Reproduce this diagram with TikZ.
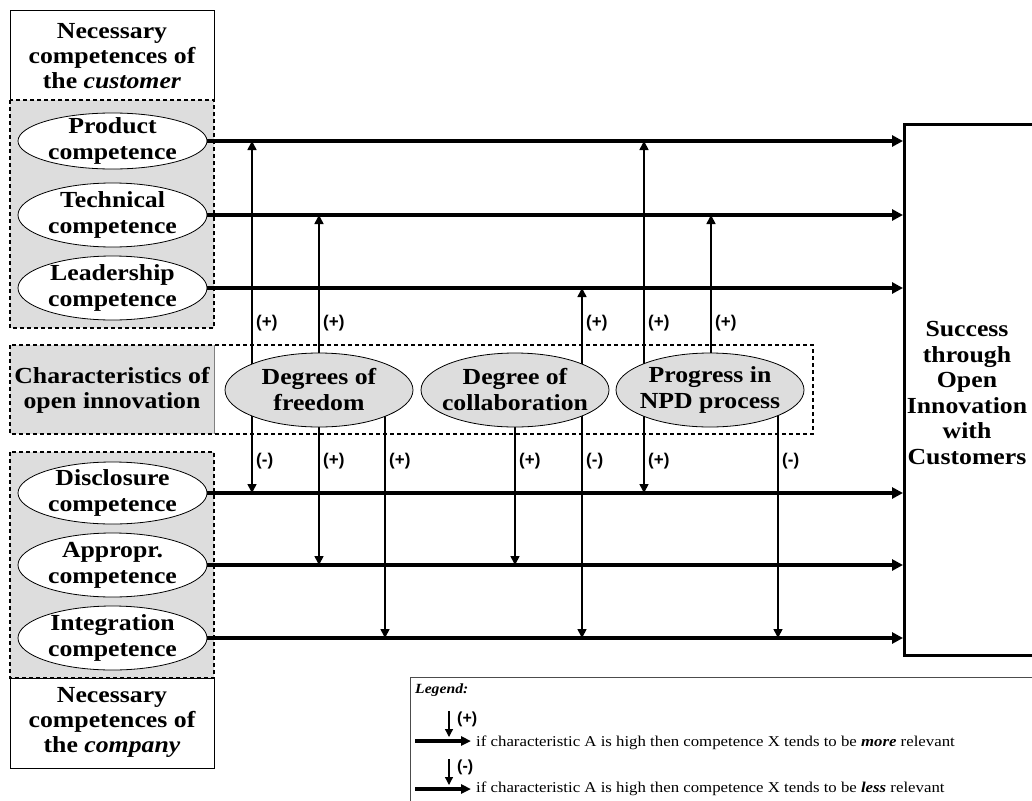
\documentclass[tikz,border=0pt]{standalone}
\usepackage{fontspec}
\setmainfont{Liberation Serif}[FakeStretch=1.12]
\newfontfamily\signfont{Liberation Sans}
\usetikzlibrary{arrows.meta,shapes.geometric,calc}
\definecolor{boxgray}{HTML}{DDDDDD}
\pgfdeclarelayer{back}
\pgfsetlayers{back,main}
\begin{document}
\begin{tikzpicture}[x=1pt,y=-1pt,
  titletext/.style={font=\bfseries\fontsize{23}{25}\selectfont, align=center, inner sep=0},
  elltext/.style={font=\bfseries\fontsize{23}{26}\selectfont, align=center, inner sep=0},
  compell/.style={ellipse, draw, line width=0.8pt, fill=white, minimum width=189pt, minimum height=64pt, inner sep=0},
  charell/.style={ellipse, draw, line width=0.8pt, fill=boxgray, minimum width=188pt, minimum height=74pt, inner sep=0},
  dashbox/.style={draw, line width=1.5pt, dash pattern=on 4pt off 3pt},
  plainbox/.style={draw, line width=0.9pt},
  mainflow/.style={line width=4pt, -{Triangle[length=11pt,width=11pt]}},
  effect/.style={line width=1.6pt, -{Triangle[length=9pt,width=9pt]}},
  sign/.style={font=\signfont\bfseries\fontsize{17}{17}\selectfont, anchor=west, inner sep=0},
  legtext/.style={font=\fontsize{15}{17}\selectfont, anchor=west, inner sep=0},
]
\useasboundingbox (0,0) rectangle (1032,800);

% ---- frames and shaded areas ----
\begin{pgfonlayer}{back}
  % customer side
  \draw[plainbox] (10,10) rectangle (214,100);
  \fill[boxgray] (10,100) rectangle (214,328);
  \draw[dashbox] (10,100) rectangle (214,328);
  % characteristics band
  \fill[boxgray] (10,345) rectangle (214,434);
  \draw[line width=0.6pt, gray] (214,345) -- (214,434);
  \draw[dashbox] (10,345) rectangle (813,434);
  % company side
  \fill[boxgray] (10,452) rectangle (214,678);
  \draw[dashbox] (10,452) rectangle (214,678);
  \draw[plainbox] (10,678) rectangle (214,768);
  % legend frame
  \draw[line width=1pt, black!70] (410,805) -- (410,677) -- (1040,677);
\end{pgfonlayer}

% ---- titles ----
\node[titletext] (custtitle) at (112,56) {Necessary\\competences of\\the \textit{customer}};
\node[titletext] (comptitle) at (112,722) {Necessary\\competences of\\the \textit{company}};
\node[titletext] (chartitle) at (112,390) {Characteristics of\\open innovation};

% ---- competences of the customer ----
\node[compell, minimum height=56pt] (pc) at (112.5,141) {};
\node[elltext] at (pc) {Product\\competence};
\node[compell] (tc) at (112.5,215) {};
\node[elltext] at (tc) {Technical\\competence};
\node[compell] (lc) at (112.5,288) {};
\node[elltext] at (lc) {Leadership\\competence};

% ---- competences of the company ----
\node[compell, minimum height=62pt] (dc) at (112.5,493) {};
\node[elltext] at (dc) {Disclosure\\competence};
\node[compell] (ac) at (112.5,565) {};
\node[elltext] at (ac) {Appropr.\\competence};
\node[compell] (ic) at (112.5,638) {};
\node[elltext] at (ic) {Integration\\competence};

% ---- characteristics of open innovation ----
\node[charell] (df) at (319,390) {};
\node[elltext] at (df) {Degrees of\\freedom};
\node[charell] (co) at (515,390) {};
\node[elltext] at (co) {Degree of\\collaboration};
\node[charell] (pp) at (710,390) {};
\node[elltext] at (pp) {Progress in\\NPD process};

% ---- outcome ----
\node[draw, line width=2.6pt, minimum width=140pt, minimum height=531pt, anchor=north west, inner sep=0] (succ) at (903,123) {};
\node[titletext, font=\bfseries\fontsize{23}{25.6}\selectfont] (succtext) at (967,393) {Success\\through\\Open\\Innovation\\with\\Customers};

% ---- attachment points on the characteristics ----
\coordinate (a1) at ($(df.center)+(-67,0)$);
\coordinate (a2) at ($(df.center)+(0,0)$);
\coordinate (a3) at ($(df.center)+(66,0)$);
\coordinate (b1) at ($(co.center)+(0,0)$);
\coordinate (b2) at ($(co.center)+(67,0)$);
\coordinate (c1) at ($(pp.center)+(-66,0)$);
\coordinate (c2) at ($(pp.center)+(1,0)$);
\coordinate (c3) at ($(pp.center)+(68,0)$);

\begin{pgfonlayer}{back}
  % influences of the characteristics on the competences
  \draw[effect] (a1) -- (a1 |- pc.east);
  \draw[effect] (a1) -- (a1 |- dc.east);
  \draw[effect] (a2) -- (a2 |- tc.east);
  \draw[effect] (a2) -- (a2 |- ac.east);
  \draw[effect] (a3) -- (a3 |- ic.east);
  \draw[effect] (b1) -- (b1 |- ac.east);
  \draw[effect] (b2) -- (b2 |- lc.east);
  \draw[effect] (b2) -- (b2 |- ic.east);
  \draw[effect] (c1) -- (c1 |- pc.east);
  \draw[effect] (c1) -- (c1 |- dc.east);
  \draw[effect] (c2) -- (c2 |- tc.east);
  \draw[effect] (c3) -- (c3 |- ic.east);
  % competences leading to success
  \foreach \c in {pc,tc,lc,dc,ac,ic}
    \draw[mainflow] (\c.east) -- (\c.east -| succ.west);
\end{pgfonlayer}

% ---- signs of the influences ----
\node[sign] at ($(a1)+(4,-67)$) {(+)};
\node[sign] at ($(a2)+(4,-67)$) {(+)};
\node[sign] at ($(b2)+(4,-67)$) {(+)};
\node[sign] at ($(c1)+(4,-67)$) {(+)};
\node[sign] at ($(c2)+(4,-67)$) {(+)};
\node[sign] at ($(a1)+(4,71)$) {(-)};
\node[sign] at ($(a2)+(4,71)$) {(+)};
\node[sign] at ($(a3)+(4,71)$) {(+)};
\node[sign] at ($(b1)+(4,71)$) {(+)};
\node[sign] at ($(b2)+(4,71)$) {(-)};
\node[sign] at ($(c1)+(4,71)$) {(+)};
\node[sign] at ($(c3)+(4,71)$) {(-)};

% ---- legend ----
\node[legtext, font=\bfseries\itshape\fontsize{14}{16}\selectfont] (leg) at (415,690) {Legend:};
\coordinate (p1) at (449,711);
\coordinate (p1e) at (449,737);
\coordinate (h1s) at (415,741);
\coordinate (h1e) at (471,741);
\draw[line width=1.3pt, -{Triangle[length=8pt,width=8pt]}] (p1) -- (p1e);
\draw[line width=3.5pt, -{Triangle[length=10pt,width=9pt]}] (h1s) -- (h1e);
\node[sign, font=\signfont\bfseries\fontsize{16}{16}\selectfont] at (457,719) {(+)};
\node[legtext] (lt1) at (476,743) {if characteristic A is high then competence X tends to be \textbf{\textit{more}} relevant};
\coordinate (p2) at (449,759);
\coordinate (p2e) at (449,785);
\coordinate (h2s) at (415,789);
\coordinate (h2e) at (471,789);
\draw[line width=1.3pt, -{Triangle[length=8pt,width=8pt]}] (p2) -- (p2e);
\draw[line width=3.5pt, -{Triangle[length=10pt,width=9pt]}] (h2s) -- (h2e);
\node[sign, font=\signfont\bfseries\fontsize{16}{16}\selectfont] at (457,767) {(-)};
\node[legtext] (lt2) at (476,789) {if characteristic A is high then competence X tends to be \textbf{\textit{less}} relevant};
\end{tikzpicture}
\end{document}
